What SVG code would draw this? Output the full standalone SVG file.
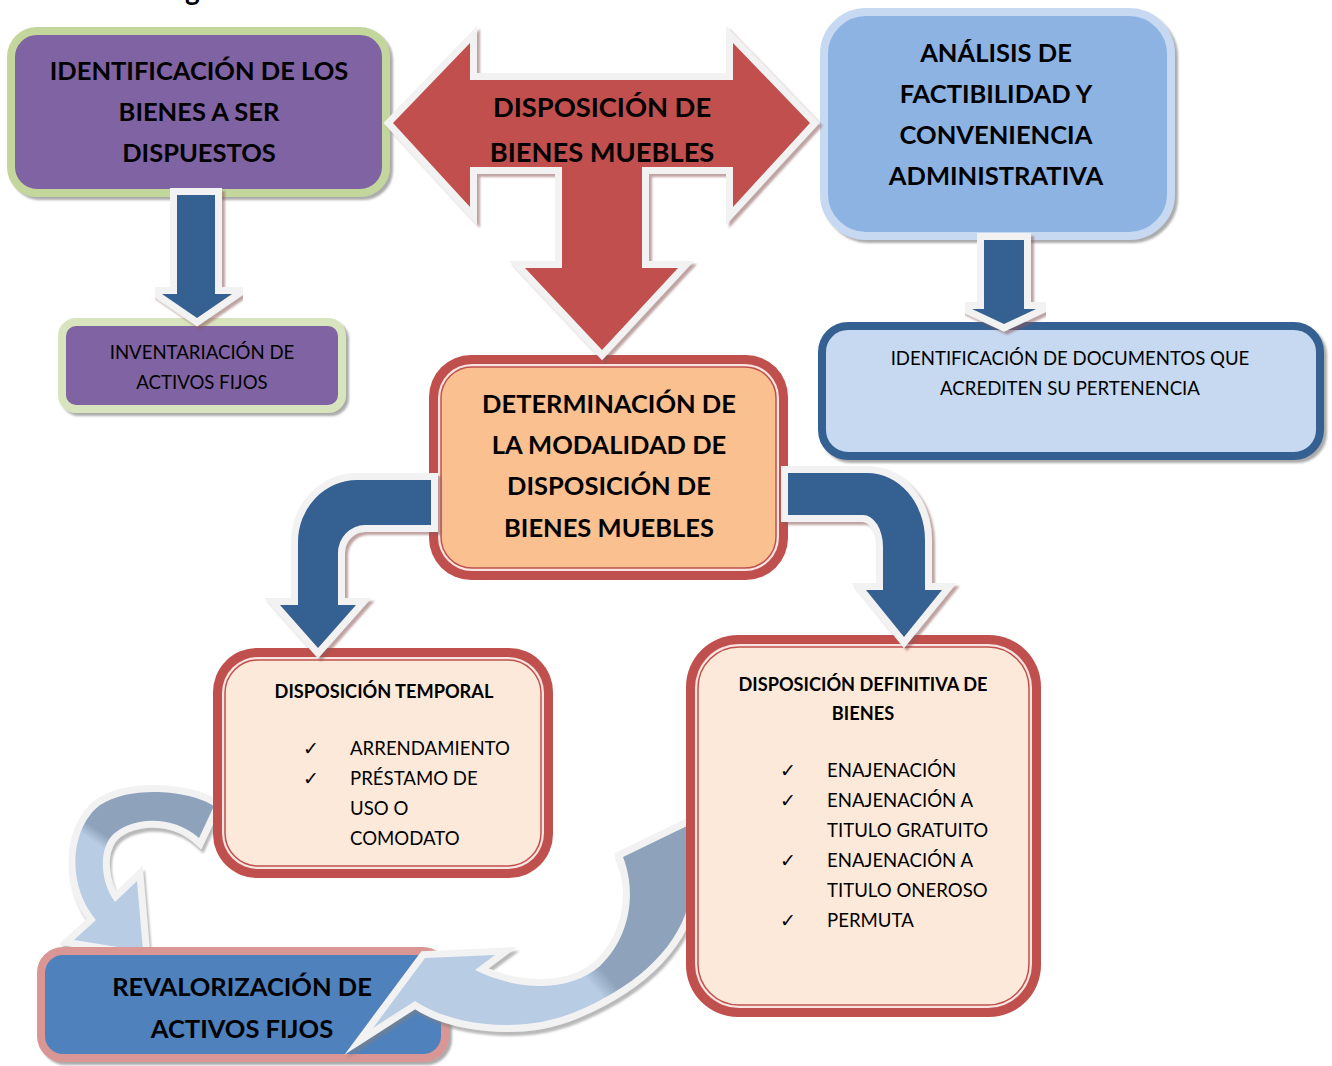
<svg xmlns="http://www.w3.org/2000/svg" width="1332" height="1066" viewBox="0 0 1332 1066">
<defs>
<style>
.t{font-family:Lato,"Open Sans","Liberation Sans",sans-serif;fill:#000;text-anchor:middle}
.b{font-weight:700;font-size:25.5px}
.r{font-weight:400;font-size:18.6px}
.s{font-weight:700;font-size:18.2px}
.li{font-family:Lato,"Open Sans","Liberation Sans",sans-serif;font-weight:400;font-size:18.6px;fill:#000}
.ck{font-family:"DejaVu Sans",sans-serif;font-size:19px;fill:#000;text-anchor:middle}
.arB{fill:#366092;stroke:#F2F2F2;stroke-width:14;stroke-linejoin:miter;stroke-miterlimit:10;paint-order:stroke}
.arR{fill:#C0504D;stroke:#F2F2F2;stroke-width:14;stroke-linejoin:miter;stroke-miterlimit:10;paint-order:stroke}
.arC{stroke:#F2F2F2;stroke-width:14;stroke-linejoin:miter;stroke-miterlimit:10;paint-order:stroke}
.red3 .o{fill:#C0504D}
.red3 .m{fill:#F8E4E0}
.red3 .i{fill:#FDE9D9;stroke:#C0504D;stroke-width:1.5}
</style>
<filter id="shBox" x="-10%" y="-10%" width="125%" height="130%">
<feDropShadow dx="3" dy="3" stdDeviation="1.2" flood-color="#7f7f7f" flood-opacity="0.65"/>
</filter>
<filter id="shArr" x="-10%" y="-10%" width="125%" height="125%">
<feDropShadow dx="3" dy="3" stdDeviation="1" flood-color="#8a5555" flood-opacity="0.55"/>
</filter>
<filter id="shCur" x="-10%" y="-10%" width="125%" height="125%">
<feDropShadow dx="2" dy="4" stdDeviation="1" flood-color="#808080" flood-opacity="0.55"/>
</filter>
<linearGradient id="gL" gradientUnits="userSpaceOnUse" x1="125" y1="822" x2="98" y2="862">
<stop offset="0" stop-color="#8EA3BB"/>
<stop offset="0.45" stop-color="#8EA3BB"/>
<stop offset="0.7" stop-color="#B8CCE4"/>
<stop offset="1" stop-color="#B8CCE4"/>
</linearGradient>
<linearGradient id="gR" gradientUnits="userSpaceOnUse" x1="640" y1="940" x2="560" y2="1010">
<stop offset="0" stop-color="#8EA3BB"/>
<stop offset="0.45" stop-color="#8EA3BB"/>
<stop offset="0.62" stop-color="#B8CCE4"/>
<stop offset="1" stop-color="#B8CCE4"/>
</linearGradient>
<clipPath id="cL"><rect x="0" y="0" width="213" height="947"/></clipPath>
<clipPath id="cR"><rect x="0" y="0" width="686" height="1066"/></clipPath>
</defs>

<rect width="1332" height="1066" fill="#FFFFFF"/>

<!-- heading, mostly above the page edge -->
<text x="185" y="0" style="font-family:Lato,'Open Sans','Liberation Sans',sans-serif;font-weight:700;font-size:28px">g</text>

<g id="nodes">
<g id="n-identificacion">
<rect x="11" y="31" width="375" height="162" rx="26" fill="#8064A2" stroke="#C3D69B" stroke-width="8" filter="url(#shBox)"/>
<text class="t b" x="199" y="80">IDENTIFICACIÓN DE LOS</text>
<text class="t b" x="199" y="121">BIENES A SER</text>
<text class="t b" x="199" y="162">DISPUESTOS</text>
</g>

<g id="n-inventariacion">
<rect x="62" y="322" width="280" height="87" rx="14" fill="#8064A2" stroke="#D7E4BD" stroke-width="8" filter="url(#shBox)"/>
<text class="t r" x="202" y="359">INVENTARIACIÓN DE</text>
<text class="t r" x="202" y="389">ACTIVOS FIJOS</text>
</g>

<g id="n-analisis">
<rect x="824" y="12" width="347" height="224" rx="42" fill="#8DB3E2" stroke="#C6D9F1" stroke-width="8" filter="url(#shBox)"/>
<text class="t b" x="996" y="62">ANÁLISIS DE</text>
<text class="t b" x="996" y="103">FACTIBILIDAD Y</text>
<text class="t b" x="996" y="144">CONVENIENCIA</text>
<text class="t b" x="996" y="185">ADMINISTRATIVA</text>
</g>

<g id="n-documentos">
<rect x="822" y="326" width="498" height="130" rx="26" fill="#C6D9F1" stroke="#366092" stroke-width="8" filter="url(#shBox)"/>
<text class="t r" x="1070" y="365">IDENTIFICACIÓN DE DOCUMENTOS QUE</text>
<text class="t r" x="1070" y="395">ACREDITEN SU PERTENENCIA</text>
</g>

<g id="n-determinacion" class="red3">
<rect class="o" x="429" y="355" width="359" height="225" rx="42"/>
<rect class="m" x="438" y="364" width="341" height="207" rx="34"/>
<rect x="441" y="367" width="335" height="201" rx="31" fill="#FAC090" stroke="#C0504D" stroke-width="1.5"/>
<text class="t b" x="609" y="413">DETERMINACIÓN DE</text>
<text class="t b" x="609" y="454">LA MODALIDAD DE</text>
<text class="t b" x="609" y="495">DISPOSICIÓN DE</text>
<text class="t b" x="609" y="537">BIENES MUEBLES</text>
</g>

<g id="n-temporal" class="red3">
<rect class="o" x="213" y="648" width="340" height="230" rx="44"/>
<rect class="m" x="222" y="657" width="322" height="212" rx="36"/>
<rect class="i" x="225" y="660" width="316" height="206" rx="33"/>
<text class="t s" x="384" y="698">DISPOSICIÓN TEMPORAL</text>
<text class="ck" x="311" y="755">✓</text>
<text class="ck" x="311" y="785">✓</text>
<text class="li" x="350" y="755">ARRENDAMIENTO</text>
<text class="li" x="350" y="785">PRÉSTAMO DE</text>
<text class="li" x="350" y="815">USO O</text>
<text class="li" x="350" y="845">COMODATO</text>
</g>

<g id="n-revalorizacion">
<rect x="41" y="951" width="404" height="107" rx="22" fill="#4F81BD" stroke="#D99694" stroke-width="8" filter="url(#shBox)"/>
<text class="t b" x="242" y="996">REVALORIZACIÓN DE</text>
<text class="t b" x="242" y="1038">ACTIVOS FIJOS</text>
</g>

<g id="n-definitiva" class="red3">
<rect class="o" x="686" y="635" width="355" height="382" rx="52"/>
<rect class="m" x="695" y="644" width="337" height="364" rx="44"/>
<rect class="i" x="698" y="647" width="331" height="358" rx="41"/>
<text class="t s" x="863" y="691">DISPOSICIÓN DEFINITIVA DE</text>
<text class="t s" x="863" y="720">BIENES</text>
<text class="ck" x="788" y="777">✓</text>
<text class="ck" x="788" y="807">✓</text>
<text class="ck" x="788" y="867">✓</text>
<text class="ck" x="788" y="927">✓</text>
<text class="li" x="827" y="777">ENAJENACIÓN</text>
<text class="li" x="827" y="807">ENAJENACIÓN A</text>
<text class="li" x="827" y="837">TITULO GRATUITO</text>
<text class="li" x="827" y="867">ENAJENACIÓN A</text>
<text class="li" x="827" y="897">TITULO ONEROSO</text>
<text class="li" x="827" y="927">PERMUTA</text>
</g>
</g>

<g id="connectors">
<!-- three-way arrow with its label -->
<g id="c-disposicion">
<path class="arR" filter="url(#shArr)" d="M393,123 L470,43 L470,80 L733,80 L733,43 L810,123 L733,207 L733,167 L642,167 L642,268 L678,268 L602,350 L525,268 L562,268 L562,167 L470,167 L470,207 Z"/>
<text class="t" x="602" y="117" style="font-weight:700;font-size:27.3px">DISPOSICIÓN DE</text>
<text class="t" x="602" y="162" style="font-weight:700;font-size:27.3px">BIENES MUEBLES</text>
</g>

<path id="c-inventario" class="arB" filter="url(#shArr)" d="M177,195 L215,195 L215,294 L232,294 L197,318 L162,294 L177,294 Z"/>
<path id="c-documentos" class="arB" filter="url(#shArr)" d="M984,240 L1024,240 L1024,309 L1036,309 L1004,324 L972,309 L984,309 Z"/>

<path id="c-temporal" class="arB" filter="url(#shArr)" d="M431,480 L357,480 A59,62 0 0 0 298,542 L298,605 L280,605 L318,648 L356,605 L338,605 L338,553 A27,28 0 0 1 365,525 L431,525 Z"/>
<path id="c-definitiva" class="arB" filter="url(#shArr)" d="M788,473 L867,473 A58,67 0 0 1 925,540 L925,590 L942,590 L904,637 L866,590 L883,590 L883,547 A20,32 0 0 0 863,515 L788,515 Z"/>

<!-- circular returns towards revaluation -->
<g id="c-retorno-temporal" clip-path="url(#cL)">
<path class="arC" fill="url(#gL)" filter="url(#shCur)" d="M214,806 C190,790 130,785 100,805 C70,828 66,885 96,920 L74,940 L143,951 L137,881 L115,902 C102,885 98,855 110,838 C125,818 170,812 199,838 Z"/>
</g>
<g id="c-retorno-definitiva" clip-path="url(#cR)">
<path class="arC" fill="url(#gR)" filter="url(#shCur)" d="M623,857 C636,890 632,935 600,966 C570,992 520,992 475,970 L495,955 L425,958 L373,1028 L415,1001 C450,1025 520,1035 575,1012 C640,985 690,940 692,880 L695,822 Z"/>
</g>
</g>
</svg>
